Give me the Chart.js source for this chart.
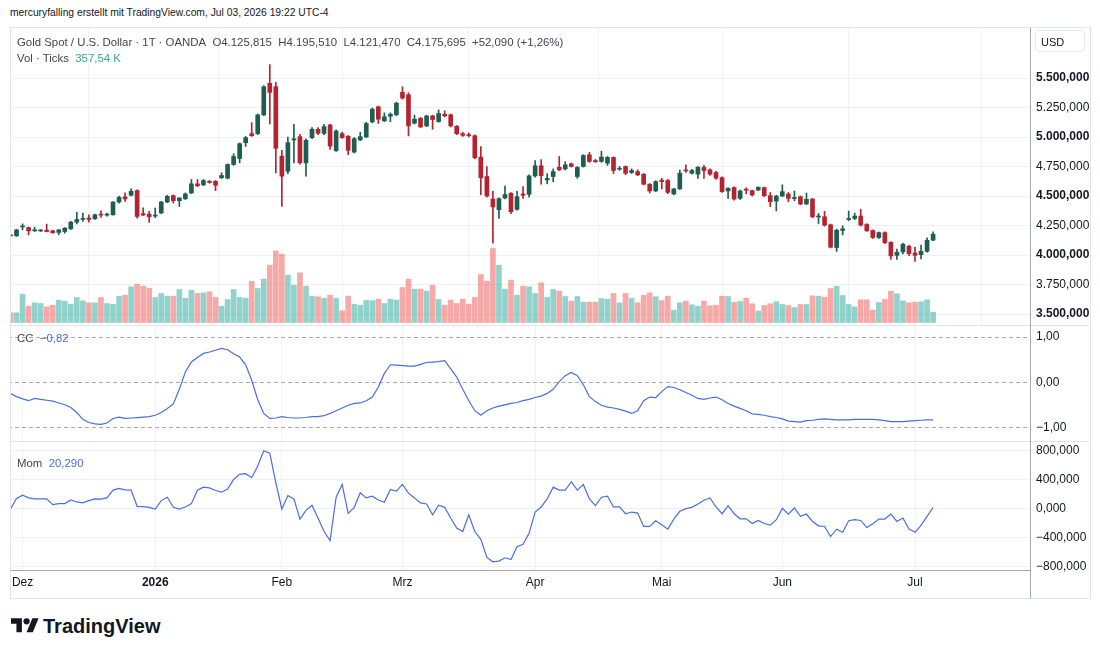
<!DOCTYPE html>
<html><head><meta charset="utf-8">
<script src="https://cdn.jsdelivr.net/npm/chart.js@4.4.1/dist/chart.umd.min.js"></script>
<style>
html,body{margin:0;padding:0;background:#fff}
body{width:1100px;height:655px;position:relative;overflow:hidden;font-family:"Liberation Sans",Arial,sans-serif;color:#131722}
.abs{position:absolute}
#clip{position:absolute;left:11px;top:28px;width:1078px;height:569px;overflow:hidden}
#clip canvas{position:absolute;left:-11px}
.txt{position:absolute;white-space:nowrap;font-size:12px;line-height:14px}
.lg{color:#434651}
.blue{color:#4a6ee0}
.teal{color:#3aa596}
.hl{position:absolute;height:1px}
.vl{position:absolute;width:1px}
</style></head><body>
<div class="txt" id="credit" style="left:10px;top:6px;font-size:10.3px;color:#131722">mercuryfalling erstellt mit TradingView.com, Jul 03, 2026 19:22 UTC-4</div>

<div id="clip">
  <canvas id="cMain" width="1100" height="298" style="top:-1px"></canvas>
  <canvas id="cCC" width="1100" height="116" style="top:297px"></canvas>
  <canvas id="cMom" width="1100" height="157" style="top:413px"></canvas>
</div>

<div class="abs" style="left:10px;top:27px;width:1079px;height:570px;border:1px solid #e0e3eb"></div>
<div class="hl" style="left:11px;top:325px;width:1078px;background:#e0e3eb"></div>
<div class="hl" style="left:11px;top:441px;width:1078px;background:#e0e3eb"></div>
<div class="hl" style="left:11px;top:570px;width:1019px;background:#a3a6af"></div>
<div class="vl" style="left:1030px;top:28px;height:570px;background:#a3a6af"></div>
<div class="abs" style="left:1035px;top:30px;width:50px;height:22px;border:1px solid #e6e8ee;border-radius:4px;box-sizing:border-box"></div>
<div class="txt" style="left:1041px;top:35px;font-size:11px">USD</div>

<div class="txt lg" style="left:17px;top:35px;font-size:11.4px">Gold Spot / U.S. Dollar · 1T · OANDA&nbsp;&nbsp;O4.125,815&nbsp;&nbsp;H4.195,510&nbsp;&nbsp;L4.121,470&nbsp;&nbsp;C4.175,695&nbsp;&nbsp;+52,090 (+1,26%)</div>
<div class="txt" style="left:17px;top:51px;font-size:11.4px"><span class="lg">Vol · Ticks</span>&nbsp;&nbsp;<span class="teal">357,54 K</span></div>
<div class="txt" style="left:17px;top:331px;font-size:11.4px"><span class="lg">CC</span>&nbsp;&nbsp;<span class="blue">−0,82</span></div>
<div class="txt" style="left:17px;top:456px;font-size:11.4px"><span class="lg">Mom</span>&nbsp;&nbsp;<span class="blue">20,290</span></div>

<svg class="abs" style="left:11px;top:615px" width="28" height="22" viewBox="0 0 36 28"><path d="M14 22H7V11H0V4h14v18zM28 22h-8l7.5-18h8L28 22z" fill="#131722"/><circle cx="20" cy="8" r="4" fill="#131722"/></svg>
<div class="txt" style="left:43px;top:614px;font-size:20px;line-height:24px;font-weight:bold;color:#131722">TradingView</div>

<script>
// ---------- DATA ----------
const opens = [
4168,4162,4238,4233,4205,4204,4210,4205,4191,4199,
4222,4279,4302,4313,4307,4343,4338,4341,4449,4492,
4506,4546,4350,4347,4330,4356,4449,4503,4460,4477,
4526,4603,4594,4625,4625,4654,4651,4767,4818,4952,
5028,5028,5188,5455,5426,4838,4710,4975,5003,4781,
4994,5065,5031,5102,4884,5028,5006,4872,4975,5000,
5128,5256,5137,5176,5188,5378,5358,5117,5159,5094,
5179,5131,5193,5188,5091,5028,5020,5011,4830,4665,
4475,4384,4483,4523,4387,4517,4514,4670,4756,4636,
4665,4744,4730,4773,4665,4750,4849,4801,4793,4778,
4827,4727,4750,4699,4707,4685,4600,4543,4634,4631,
4517,4560,4716,4693,4685,4742,4722,4699,4656,4543,
4571,4480,4553,4546,4551,4571,4503,4457,4500,4517,
4478,4494,4432,4474,4322,4324,4256,4063,4208,4301,
4310,4330,4259,4208,4148,4190,4108,3997,4026,4074,
4017,4003,4031,4125.815];
const highs = [
4175,4218,4264,4238,4236,4215,4262,4210,4216,4232,
4285,4361,4355,4341,4347,4375,4356,4452,4500,4526,
4560,4552,4400,4370,4398,4455,4506,4509,4486,4526,
4640,4640,4640,4631,4630,4697,4772,4858,4950,5005,
5122,5195,5435,5613,5463,4887,5000,5108,5023,4985,
5080,5080,5108,5108,5060,5040,5012,4995,5040,5125,
5245,5262,5205,5205,5295,5426,5375,5185,5165,5185,
5185,5230,5222,5195,5097,5040,5035,5018,4918,4750,
4540,4485,4585,4530,4540,4580,4680,4800,4808,4690,
4730,4835,4790,4780,4750,4850,4870,4810,4880,4835,
4832,4750,4755,4730,4722,4690,4605,4630,4650,4640,
4565,4720,4765,4725,4750,4760,4730,4710,4662,4570,
4577,4550,4570,4550,4578,4576,4530,4505,4595,4530,
4542,4500,4525,4480,4352,4370,4262,4220,4247,4372,
4355,4387,4265,4213,4195,4196,4112,4050,4100,4085,
4065,4085,4145,4195.510];
const lows = [
4158,4158,4213,4171,4199,4199,4196,4185,4171,4185,
4216,4264,4284,4279,4301,4318,4330,4338,4440,4455,
4500,4313,4336,4276,4316,4350,4443,4440,4412,4470,
4520,4580,4588,4608,4545,4648,4645,4760,4781,4920,
5005,5020,5180,5110,4696,4412,4690,4781,4770,4668,
4985,5020,5020,4895,4878,4990,4850,4865,4970,4995,
5120,5114,5130,5130,5180,5320,5009,5110,5080,5088,
5065,5125,5170,5085,5020,5005,5000,4815,4512,4490,
4100,4310,4475,4350,4380,4480,4490,4660,4600,4603,
4620,4715,4720,4745,4650,4745,4785,4785,4786,4760,
4690,4718,4680,4690,4672,4594,4525,4537,4560,4520,
4510,4555,4700,4685,4650,4650,4675,4640,4530,4480,
4465,4470,4520,4500,4545,4495,4410,4374,4495,4452,
4460,4425,4428,4315,4267,4245,4060,4030,4170,4290,
4300,4245,4200,4140,4140,4095,3963,3963,4010,3995,
3945,3966,4025,4121.470];
const closes = [
4162,4213,4241,4205,4207,4206,4199,4188,4213,4228,
4279,4301,4304,4301,4341,4338,4341,4449,4489,4475,
4540,4327,4338,4324,4336,4449,4497,4460,4483,4517,
4603,4586,4631,4614,4591,4674,4767,4835,4943,4994,
5011,5188,5426,5378,4904,4668,4952,4985,4781,4972,
5065,5031,5088,4923,5051,4994,4887,4986,5003,5114,
5236,5151,5171,5193,5287,5330,5094,5151,5085,5179,
5148,5199,5179,5094,5028,5014,5011,4824,4654,4500,
4407,4478,4512,4367,4494,4506,4670,4756,4673,4650,
4707,4722,4764,4750,4742,4844,4793,4790,4830,4827,
4716,4735,4693,4716,4679,4600,4543,4622,4622,4531,
4560,4693,4713,4716,4744,4716,4685,4651,4537,4566,
4475,4543,4549,4509,4574,4503,4452,4500,4537,4480,
4482,4432,4472,4324,4326,4253,4066,4210,4222,4310,
4330,4253,4205,4148,4190,4105,3992,4023,4091,4012,
3997,4031,4125,4175.695];
// volume in thousands of ticks
const volumes = [
337,337,982,566,684,659,545,600,774,739,
635,868,753,684,684,868,659,635,913,947,
1239,1329,1260,1190,868,1006,913,913,1145,843,
1121,1006,1031,1065,868,566,798,1145,868,843,
1433,1180,1503,1988,2488,2370,1641,1294,1725,1260,
913,892,843,947,843,406,913,635,600,774,
753,809,659,809,774,1215,1503,1156,1156,1086,
1294,798,600,774,659,809,635,868,1666,1433,
2568,1988,1156,1468,947,1260,1239,1006,1378,878,
1145,1086,902,739,902,704,704,704,833,809,
1006,684,1006,843,684,947,1031,892,763,913,
427,684,739,614,566,739,579,600,913,902,
704,729,843,649,399,590,649,718,625,590,
521,625,625,926,913,878,1180,1260,937,625,
545,788,788,427,694,798,1086,996,753,684,
704,718,788,357.54];
const ccValues = [
-0.24,-0.31,-0.36,-0.40,-0.35,-0.37,-0.39,-0.41,-0.45,-0.49,
-0.55,-0.66,-0.81,-0.88,-0.91,-0.92,-0.89,-0.79,-0.76,-0.79,
-0.78,-0.77,-0.76,-0.75,-0.72,-0.66,-0.57,-0.47,-0.15,0.23,
0.45,0.55,0.64,0.67,0.71,0.75,0.72,0.63,0.56,0.39,
0.05,-0.38,-0.68,-0.79,-0.78,-0.75,-0.77,-0.78,-0.78,-0.77,
-0.75,-0.75,-0.73,-0.68,-0.62,-0.56,-0.50,-0.46,-0.45,-0.40,
-0.32,-0.10,0.20,0.39,0.38,0.37,0.36,0.36,0.40,0.44,
0.45,0.46,0.48,0.30,0.12,-0.15,-0.40,-0.62,-0.72,-0.62,
-0.56,-0.52,-0.49,-0.46,-0.44,-0.40,-0.37,-0.33,-0.30,-0.24,
-0.15,0.02,0.15,0.22,0.15,-0.05,-0.31,-0.42,-0.50,-0.54,
-0.56,-0.59,-0.63,-0.68,-0.62,-0.40,-0.32,-0.33,-0.20,-0.09,
-0.11,-0.16,-0.22,-0.28,-0.35,-0.37,-0.34,-0.32,-0.38,-0.46,
-0.52,-0.57,-0.62,-0.69,-0.70,-0.72,-0.75,-0.77,-0.80,-0.85,
-0.86,-0.87,-0.84,-0.83,-0.81,-0.80,-0.81,-0.82,-0.82,-0.82,
-0.81,-0.81,-0.81,-0.81,-0.82,-0.84,-0.86,-0.86,-0.86,-0.85,
-0.84,-0.83,-0.82,-0.82];
const momValues = [
0,144,190,153,139,139,139,60,74,74,
125,97,84,116,139,135,153,260,283,264,
260,37,32,23,0,116,162,23,0,28,
74,260,302,292,255,232,274,408,478,487,
432,594,803,770,362,0,186,139,-139,-19,
51,-125,-311,-436,162,339,-60,23,223,153,
176,125,93,269,246,339,218,153,84,70,
-79,51,23,-125,-264,-311,-79,-311,-418,-668,
-728,-719,-673,-696,-520,-487,-334,-42,28,139,
302,260,260,376,260,339,139,46,162,176,
28,28,-65,-42,-56,-241,-241,-162,-218,-278,
-139,-32,5,23,70,121,153,28,-65,46,
-65,-135,-135,-200,-158,-200,-223,-148,9,-70,
14,-102,-70,-172,-232,-241,-380,-278,-320,-162,
-148,-158,-255,-204,-139,-139,-70,-172,-125,-278,
-320,-227,-102,20.29];
// month tick positions (bar index of first bar of month) and their labels
const monthIdx   = [2, 24, 45, 65, 87, 108, 128, 150];
const monthNames = ['Dez','2026','Feb','Mrz','Apr','Mai','Jun','Jul'];
const priceTicks = [3500,3750,4000,4250,4500,4750,5000,5250,5500];
const ccTicks    = [-1, 0, 1];
const momTicks   = [-800, -400, 0, 400, 800];

// ---------- STYLE ----------
const FONT = '"Liberation Sans", Arial, sans-serif';
const UP = '#1d5e50', DOWN = '#b32430';
const VUP = 'rgba(38,166,154,0.5)', VDOWN = 'rgba(239,83,80,0.5)';
const GRID = '#f0f2f6';
const LINE = '#4a6ee0';
const X_MIN = -0.415, X_MAX = 169.07;

function de(v, d){
  const s = Math.abs(v).toFixed(d);
  let [i, f] = s.split('.');
  i = i.replace(/\B(?=(\d{3})+(?!\d))/g, '.');
  return (v < 0 ? '\u2212' : '') + i + (f ? ',' + f : '');
}
function xAxis(show){
  return {
    type:'linear', min:X_MIN, max:X_MAX, offset:false,
    afterBuildTicks: s => { s.ticks = monthIdx.map(v => ({value:v})); },
    afterFit: s => { s.height = show ? 28 : 0; s.paddingLeft = 0; s.paddingRight = 0; s.paddingTop = 0; s.paddingBottom = 0; },
    grid:{color:GRID, drawTicks:false, lineWidth:1},
    border:{display:false},
    ticks:{display:show, autoSkip:false, maxRotation:0, padding:5, color:'#131722',
      font: c => ({family:FONT, size:12, weight: (c.tick && c.tick.value === 24) ? 'bold' : 'normal'}),
      callback: v => { const k = monthIdx.indexOf(v); return k >= 0 ? monthNames[k] : ''; }}
  };
}
function yAxis(min, max, ticks, fmt, gridColor, dash, fontFn){
  return {
    position:'right', min, max,
    afterBuildTicks: s => { s.ticks = ticks.map(v => ({value:v})); },
    afterFit: s => { s.width = 60; s.paddingTop = 0; s.paddingBottom = 0; s.paddingLeft = 0; s.paddingRight = 0; },
    border:{display:false, dash: dash || []},
    grid:{color:gridColor, drawTicks:false, lineWidth:1},
    ticks:{padding:6, color:'#131722', font: fontFn || {family:FONT, size:12}, callback: v => fmt(v)}
  };
}
const common = {
  responsive:false, animation:false, devicePixelRatio:1,
  layout:{padding:{left:8, right:10, top:0, bottom:0}},
  plugins:{legend:{display:false}, tooltip:{enabled:false}}
};

const candleColors = closes.map((c,i) => c >= opens[i] ? UP : DOWN);
const volColors = closes.map((c,i) => c >= opens[i] ? VUP : VDOWN);

// ---------- MAIN PANE ----------
new Chart(document.getElementById('cMain'), {
  type:'bar',
  data:{datasets:[
    {data: opens.map((o,i) => ({x:i, y:[opens[i], closes[i]]})), yAxisID:'y', backgroundColor:candleColors,
     barThickness:4, grouped:false, order:1, minBarLength:1},
    {data: lows.map((l,i) => ({x:i, y:[lows[i], highs[i]]})), yAxisID:'y', backgroundColor:candleColors,
     barThickness:1, grouped:false, order:2},
    {data: volumes.map((v,i) => ({x:i, y:v})), yAxisID:'yv', backgroundColor:volColors,
     barThickness:5, grouped:false, order:3}
  ]},
  options:Object.assign({}, common, {
    scales:{
      x: xAxis(false),
      y: yAxis(3406.8, 5932.2, priceTicks, v => de(v,3), '#eef0f4', null,
           c => ({family:FONT, size:12, weight: (c.tick && c.tick.value % 500 === 0) ? 'bold' : 'normal'})),
      yv:{display:false, min:-86.75, max:10253.9}
    }
  })
});

// ---------- CC PANE ----------
new Chart(document.getElementById('cCC'), {
  type:'line',
  data:{datasets:[{data: ccValues.map((v,i) => ({x:i, y:v})), borderColor:LINE, borderWidth:1.2, pointRadius:0, tension:0}]},
  options:Object.assign({}, common, {
    scales:{ x: xAxis(false), y: yAxis(-1.286, 1.264, ccTicks, v => de(v,2), '#a8abb3', [4,3]) }
  })
});

// ---------- MOM PANE ----------
new Chart(document.getElementById('cMom'), {
  type:'line',
  data:{datasets:[{data: momValues.map((v,i) => ({x:i, y:v})), borderColor:LINE, borderWidth:1.2, pointRadius:0, tension:0}]},
  options:Object.assign({}, common, {
    scales:{ x: xAxis(true), y: yAxis(-841.4, 937.9, momTicks, v => de(v,3), '#eef0f4') }
  })
});
</script>
</body></html>
